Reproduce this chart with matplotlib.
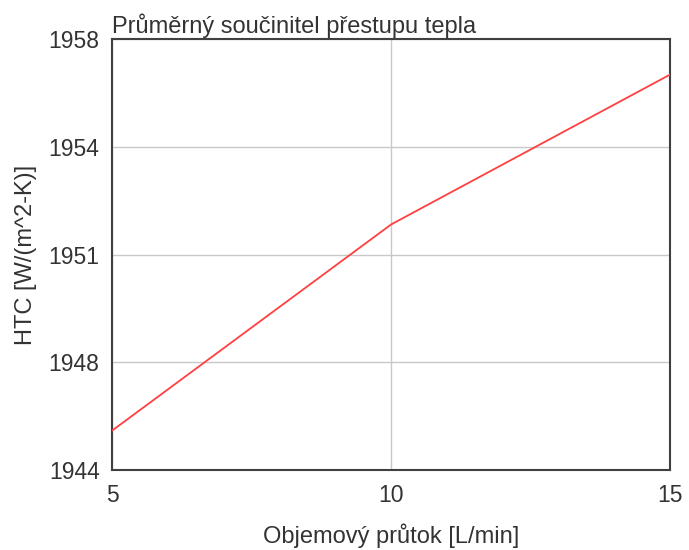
import matplotlib

matplotlib.use("Agg")

import matplotlib.pyplot as plt
import numpy as np

# flow rate [L/min] vs. average heat transfer coefficient
flow = [5, 10, 15]
htc = [1945.27, 1951.98, 1956.86]

y_lo, y_hi = 1944, 1958
y_ticklabels = ["1944", "1948", "1951", "1954", "1958"]
x_ticks = [5, 10, 15]

plt.rcParams["font.family"] = ["Liberation Sans", "DejaVu Sans"]

fig = plt.figure(figsize=(6.89, 5.5), dpi=100)
ax = fig.add_axes([0.1626, 0.146, 0.8105, 0.7825])

ax.plot(flow, htc, color="#ff4040", lw=1.3, zorder=3)

ax.set_xlim(5, 15)
ax.set_ylim(y_lo, y_hi)
ax.set_xticks(x_ticks)
ax.set_xticklabels([str(v) for v in x_ticks], fontsize=16.5)
ax.set_yticks(np.linspace(y_lo, y_hi, len(y_ticklabels)))
ax.set_yticklabels(y_ticklabels, fontsize=16.5)
ax.tick_params(length=0, pad=9, colors="#333333")
ax.tick_params(axis="x", pad=10)

ax.grid(True, color="#c8c8c8", lw=1)
ax.set_axisbelow(True)
for sp in ax.spines.values():
    sp.set_color("#404040")
    sp.set_linewidth(1.5)

ax.set_xlabel("Objemový průtok [L/min]", fontsize=17, color="#333333", labelpad=12)
ax.set_ylabel("HTC [W/(m^2-K)]", fontsize=17, color="#333333", labelpad=8)
ax.text(0, 1.002, "Průměrný součinitel přestupu tepla", transform=ax.transAxes,
        ha="left", va="bottom", fontsize=17, color="#333333")

fig.savefig("out.png", dpi=100)
